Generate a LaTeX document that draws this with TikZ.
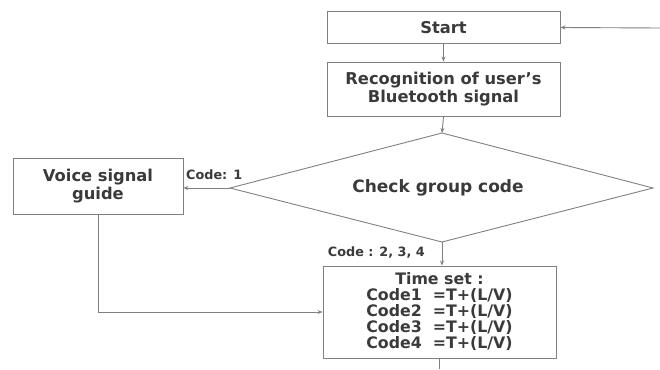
\documentclass[tikz,border=0pt]{standalone}
\usepackage{fontspec}
\setmainfont{DejaVu Sans}
\usetikzlibrary{arrows.meta}
\definecolor{txt}{HTML}{3A3A3A}
\definecolor{ln}{HTML}{808080}
\tikzset{
  box/.style={draw=ln, line width=0.9pt, rectangle, inner sep=0pt, align=center, text=txt, font=\bfseries\fontsize{16.3}{18}\selectfont},
  conn/.style={draw=ln, line width=0.9pt, -{Stealth[length=5pt,width=4pt]}},
  plain/.style={draw=ln, line width=0.9pt},
  lbl/.style={text=txt, font=\bfseries\fontsize{12.8}{14}\selectfont, inner sep=0pt},
  dtext/.style={text=txt, font=\bfseries\fontsize{17}{19}\selectfont, inner sep=0pt}
}
\begin{document}
\begin{tikzpicture}[x=1pt,y=-1pt]
\useasboundingbox (0,0) rectangle (660,369);
\node[box, minimum width=233pt, minimum height=32pt] (start) at (443.5,27.5) {Start};
\node[box, minimum width=233pt, minimum height=54pt] (rec) at (443.5,89) {Recognition of user's\\Bluetooth signal};
\coordinate (dtop) at (442,133);
\coordinate (dleft) at (230,188);
\coordinate (dright) at (653,188);
\coordinate (dbot) at (442,242);
\draw[plain] (dtop) -- (dright) -- (dbot) -- (dleft) -- cycle;
\node[dtext] (chk) at (438,188) {Check group code};
\node[box, minimum width=170pt, minimum height=56pt] (voice) at (98,186) {Voice signal\\guide};
\node[box, minimum width=233pt, minimum height=92pt, font=\bfseries\fontsize{15.8}{16}\selectfont] (time) at (439.5,312) {Time set :\\Code1 \ =T+(L/V)\\Code2 \ =T+(L/V)\\Code3 \ =T+(L/V)\\Code4 \ =T+(L/V)};
\coordinate (rin) at (660,28);
\coordinate (tout) at (439.5,369);
\node[lbl, anchor=south west] (l1) at (186,180) {Code: 1};
\node[lbl, anchor=east] (l2) at (425,253) {Code : 2, 3, 4};
\draw[conn] (rin) -- (start.east);
\draw[conn] (start.south) -- (rec.north);
\draw[conn] (rec.south) -- (dtop);
\draw[conn] (dleft) -- (voice.east |- dleft);
\draw[conn] (dbot) -- (dbot |- time.north);
\draw[conn] (voice.south) |- (time.west);
\draw[plain] (time.south) -- (tout);
\end{tikzpicture}
\end{document}
